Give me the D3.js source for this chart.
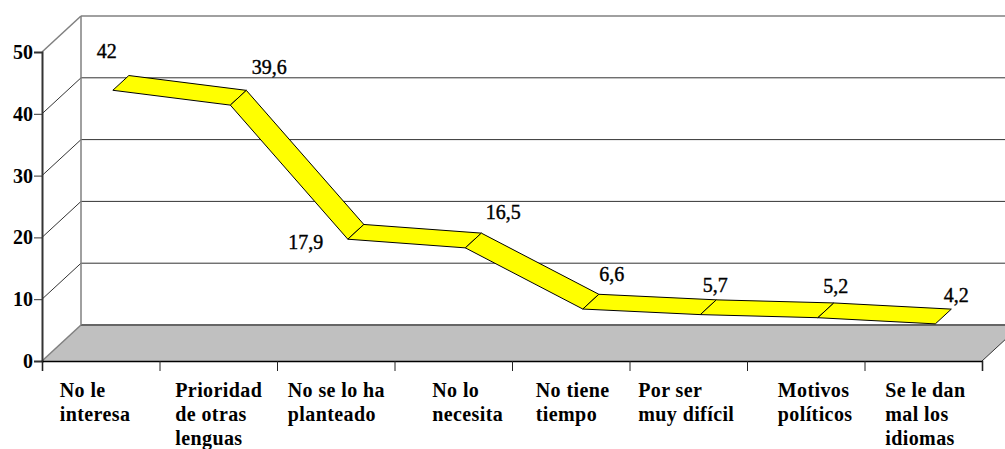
<!DOCTYPE html>
<html>
<head>
<meta charset="utf-8">
<script src="https://cdn.jsdelivr.net/npm/d3@7"></script>
<style>
  html, body { margin: 0; padding: 0; background: #fff; overflow: hidden; }
  text { font-family: "Liberation Serif", serif; fill: #000; }
</style>
</head>
<body>
<div id="container"></div>
<script>
// Data
const categories = [
  ["No le", "interesa"],
  ["Prioridad", "de otras", "lenguas"],
  ["No se lo ha", "planteado"],
  ["No lo", "necesita"],
  ["No tiene", "tiempo"],
  ["Por ser", "muy difícil"],
  ["Motivos", "políticos"],
  ["Se le dan", "mal los", "idiomas"],
];
const values = [42, 39.6, 17.9, 16.5, 6.6, 5.7, 5.2, 4.2];
const valueLabels = ["42", "39,6", "17,9", "16,5", "6,6", "5,7", "5,2", "4,2"];
const yTicks = [0, 10, 20, 30, 40, 50];

// Constants
const width = 1005;
const height = 449;

// Hand placement of the labels, the same way the original has them
const labelShift = [-41, -43, -48, -21, -35, -50, -28, -38];
const valueShift = [[-22, -18], [23, -16], [-58, 25], [22, -14], [13, -13], [-1, -8], [2, -10], [5, -7]];

// Scales
const xScale = d3.scaleLinear().domain([0, categories.length]).range([42, 982]);
const yScale = d3.scaleLinear().domain([0, 50]).range([361, 52]);
const depthX = d3.scaleLinear().domain([0, 1]).range([0, 39]);
const depthY = d3.scaleLinear().domain([0, 1]).range([0, -36]);

const ribbonFront = 0.31;
const ribbonBack = 0.72;

const project = (x, v, z) => [xScale(x) + depthX(z), yScale(v) + depthY(z)];
const poly = d3.line();

const svg = d3
  .select("#container")
  .append("svg")
  .attr("width", width)
  .attr("height", height)
  .style("display", "block");

// Back wall grid
yTicks.slice(1).forEach((t) => {
  svg
    .append("line")
    .attr("x1", xScale(0) + depthX(1))
    .attr("x2", width)
    .attr("y1", yScale(t) + depthY(1))
    .attr("y2", yScale(t) + depthY(1))
    .attr("stroke", t === 50 ? "#808080" : "#333")
    .attr("stroke-width", t === 50 ? 1.5 : 1);
  svg
    .append("path")
    .attr("d", poly([project(0, t, 0), project(0, t, 1)]))
    .attr("stroke", t === 50 ? "#808080" : "#333")
    .attr("stroke-width", t === 50 ? 1.5 : 1)
    .attr("fill", "none");
});

// Floor
svg
  .append("path")
  .attr("d", poly([project(0, 0, 0), project(0, 0, 1), project(8, 0, 1), project(8, 0, 0)]) + "Z")
  .attr("fill", "#c0c0c0");
svg
  .append("path")
  .attr("d", poly([project(0, 0, 0), project(0, 0, 1)]))
  .attr("stroke", "#808080")
  .attr("stroke-width", 1.5);
svg
  .append("path")
  .attr("d", poly([project(8, 0, 0), project(8, 0, 1)]))
  .attr("stroke", "#333")
  .attr("stroke-width", 1);
svg
  .append("line")
  .attr("x1", xScale(0) + depthX(1))
  .attr("x2", width)
  .attr("y1", yScale(0) + depthY(1))
  .attr("y2", yScale(0) + depthY(1))
  .attr("stroke", "#666")
  .attr("stroke-width", 2);

// Back wall left edge
svg
  .append("line")
  .attr("x1", xScale(0) + depthX(1))
  .attr("x2", xScale(0) + depthX(1))
  .attr("y1", yScale(50) + depthY(1))
  .attr("y2", yScale(0) + depthY(1))
  .attr("stroke", "#808080")
  .attr("stroke-width", 1.5);

// Ribbon
d3.pairs(values.map((v, i) => [i + 0.5, v])).forEach(([a, b]) => {
  svg
    .append("path")
    .attr(
      "d",
      poly([
        project(a[0], a[1], ribbonFront),
        project(a[0], a[1], ribbonBack),
        project(b[0], b[1], ribbonBack),
        project(b[0], b[1], ribbonFront),
      ]) + "Z"
    )
    .attr("fill", "#ffff00")
    .attr("stroke", "#000")
    .attr("stroke-width", 1);
});

// Axes
const yAxis = d3.axisLeft(yScale).tickValues(yTicks).tickSize(8).tickPadding(1);
const xAxis = d3.axisBottom(xScale).ticks(categories.length).tickSize(10).tickFormat("");

const yG = svg.append("g").attr("transform", "translate(42,0)").call(yAxis);
yG.selectAll("path.domain").attr("stroke", "#333").attr("stroke-width", 2);
yG.selectAll("text")
  .style("font-family", '"Liberation Serif", serif')
  .style("font-size", "20px")
  .style("font-weight", "bold");
yG.selectAll("line").attr("stroke", "#333");

const xG = svg.append("g").attr("transform", "translate(0,361)").call(xAxis);
xG.selectAll("line").attr("stroke", "#222");
xG.select("path.domain").attr("stroke", "#000").attr("stroke-width", 1.5);

// Category labels
categories.forEach((lines, i) => {
  const t = svg
    .append("text")
    .attr("font-size", 20)
    .attr("font-weight", "bold")
    .attr("letter-spacing", 0.4);
  lines.forEach((line, j) => {
    t.append("tspan")
      .attr("x", xScale(i + 0.5) + labelShift[i])
      .attr("y", 397 + j * 24)
      .text(line);
  });
});

// Value labels
values.forEach((v, i) => {
  const p = project(i + 0.5, v, ribbonBack);
  svg
    .append("text")
    .attr("x", p[0] + valueShift[i][0])
    .attr("y", p[1] + valueShift[i][1])
    .attr("text-anchor", "middle")
    .attr("font-size", 20)
    .attr("stroke", "#000")
    .attr("stroke-width", 0.4)
    .text(valueLabels[i]);
});
</script>
</body>
</html>
